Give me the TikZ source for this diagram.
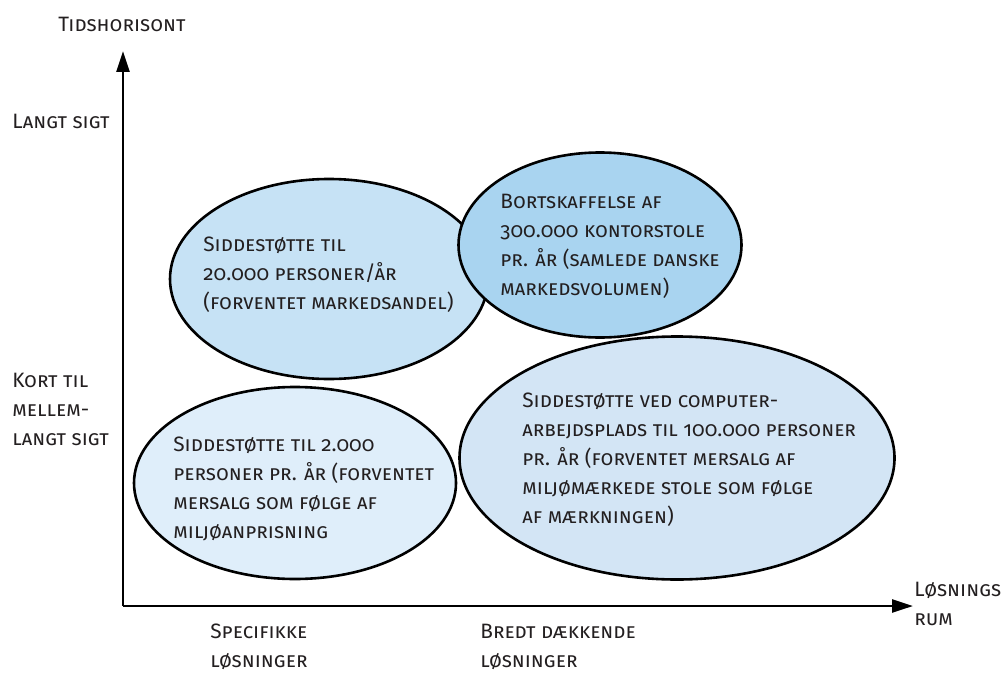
\documentclass[tikz,border=0pt]{standalone}
\usepackage{fontspec}
\setmainfont{Fira Sans}[Numbers=OldStyle]
\usepackage{tikz}
\usepackage{xcolor}
\usetikzlibrary{shapes, positioning, arrows.meta}

\definecolor{inkgray}{HTML}{231F20}
\definecolor{bluemid}{HTML}{C6E2F5}
\definecolor{bluedark}{HTML}{A9D4F0}
\definecolor{bluepale}{HTML}{DFEEFA}
\definecolor{bluesoft}{HTML}{D3E5F5}

\tikzset{
    bubble/.style={ellipse, draw, line width=1.3pt, inner sep=0pt},
    txt/.style={anchor=base west, align=left, inner sep=0pt, text=inkgray,
        font=\fontsize{10.4}{14.4}\selectfont\scshape},
    axis/.style={line width=1.3pt, -{Triangle[length=10.5pt, width=6.5pt]}}
}

\begin{document}
\begin{tikzpicture}[x=0.5pt, y=-0.5pt]
        \useasboundingbox (0, 0) rectangle (1005, 674);

        % axes
        \coordinate (o) at (123, 606);
        \coordinate (ytip) at (123, 51);
        \coordinate (xtip) at (913, 606);
        \draw[axis] (o) to (ytip);
        \draw[axis] (o) to (xtip);

        % bubbles
        \node[bubble, fill=bluemid, minimum width=159pt, minimum height=100pt] (b1) at (329, 279) {};
        \node[bubble, fill=bluedark, minimum width=141.5pt, minimum height=92.5pt] (b2) at (600, 245) {};
        \node[bubble, fill=bluepale, minimum width=161pt, minimum height=96pt] (b3) at (295, 483) {};
        \node[bubble, fill=bluesoft, minimum width=217.5pt, minimum height=121.5pt] (b4) at (677, 458) {};

        % texts (anchored on the last line)
        \node[txt] (t1) at (203, 309) {Siddestøtte til\\20.000 personer/år\\(forventet markedsandel)};
        \node[txt] (t2) at (500, 295) {Bortskaffelse af\\300.000 kontorstole\\pr. år (samlede danske\\markedsvolumen)};
        \node[txt] (t3) at (173, 538) {Siddestøtte til 2.000\\personer pr. år (forventet\\mersalg som følge af\\miljøanprisning};
        \node[txt] (t4) at (522, 523) {Siddestøtte ved computer-\\arbejdsplads til 100.000 personer\\pr. år (forventet mersalg af\\miljømærkede stole som følge\\af mærkningen)};

        % axis labels
        \node[txt] (ylab) at (58, 32) {Tidshorisont};
        \node[txt] (long) at (12, 128) {Langt sigt};
        \node[txt] (short) at (12, 445) {Kort til\\mellem-\\langt sigt};
        \node[txt] (xlab) at (914, 625) {Løsnings\\rum};
        \node[txt] (spec) at (210, 667) {Specifikke\\løsninger};
        \node[txt] (broad) at (480, 667) {Bredt dækkende\\løsninger};
    \end{tikzpicture}
\end{document}
